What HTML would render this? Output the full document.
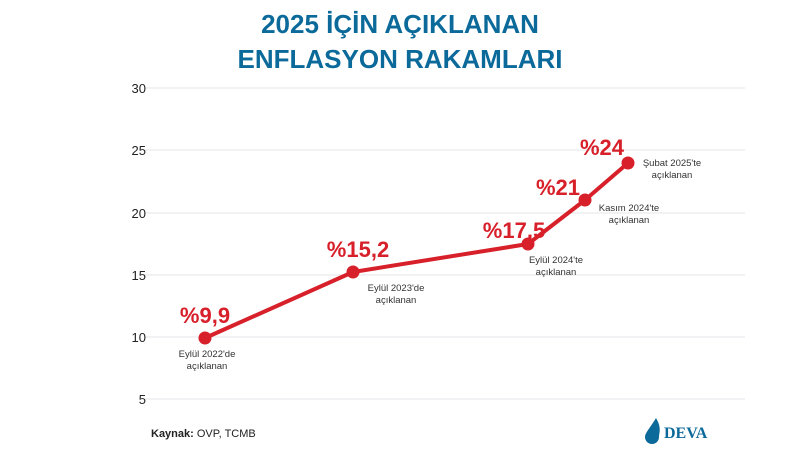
<!DOCTYPE html>
<html><head><meta charset="utf-8"><style>
body{margin:0;background:#fff;}
svg{display:block;font-family:"Liberation Sans",sans-serif;}
</style></head><body>
<svg width="800" height="450" viewBox="0 0 800 450">
<rect width="800" height="450" fill="#fff"/>
<text x="400" y="33" text-anchor="middle" font-size="26" font-weight="bold" fill="#0b6a9a">2025 İÇİN AÇIKLANAN</text>
<text x="400" y="68" text-anchor="middle" font-size="26" font-weight="bold" fill="#0b6a9a">ENFLASYON RAKAMLARI</text>
<g stroke="#e4e6ea" stroke-width="1">
<line x1="145" y1="88" x2="745" y2="88"/><line x1="145" y1="150" x2="745" y2="150"/>
<line x1="145" y1="213" x2="745" y2="213"/><line x1="145" y1="275" x2="745" y2="275"/>
<line x1="145" y1="337" x2="745" y2="337"/><line x1="145" y1="399" x2="745" y2="399"/>
</g>
<g font-size="13" fill="#222" text-anchor="end">
<text x="146" y="93">30</text><text x="146" y="155">25</text><text x="146" y="218">20</text>
<text x="146" y="280">15</text><text x="146" y="342">10</text><text x="146" y="404">5</text>
</g>
<polyline points="205,338 353,272 528,244 585,200 628,163" fill="none" stroke="#d7202a" stroke-width="4" stroke-linejoin="round"/>
<g fill="#d7202a">
<circle cx="205" cy="338" r="6.5"/><circle cx="353" cy="272" r="6.5"/><circle cx="528" cy="244" r="6.5"/>
<circle cx="585" cy="200" r="6.5"/><circle cx="628" cy="163" r="6.5"/>
</g>
<g font-size="22" font-weight="bold" fill="#d7202a" text-anchor="middle">
<text x="205" y="323">%9,9</text><text x="358" y="257">%15,2</text><text x="514" y="238">%17,5</text>
<text x="558" y="195">%21</text><text x="602" y="155">%24</text>
</g>
<g font-size="9.5" fill="#333" text-anchor="middle">
<text x="207" y="357">Eylül 2022'de</text><text x="207" y="369">açıklanan</text>
<text x="396" y="291">Eylül 2023'de</text><text x="396" y="303">açıklanan</text>
<text x="556" y="263">Eylül 2024'te</text><text x="556" y="275">açıklanan</text>
<text x="629" y="211">Kasım 2024'te</text><text x="629" y="223">açıklanan</text>
<text x="672" y="166">Şubat 2025'te</text><text x="672" y="178">açıklanan</text>
</g>
<text x="151" y="437" font-size="11" fill="#222"><tspan font-weight="bold">Kaynak:</tspan> OVP, TCMB</text>
<path d="M656 418 C650 428 645 433 645 437 A7 7 0 0 0 659 437 C659 433 662 428 656 418Z" fill="#0b6a9a"/>
<text x="664" y="438" font-size="16" font-weight="bold" fill="#0b6a9a" font-family="Liberation Serif,serif">DEVA</text>
</svg>
</body></html>
